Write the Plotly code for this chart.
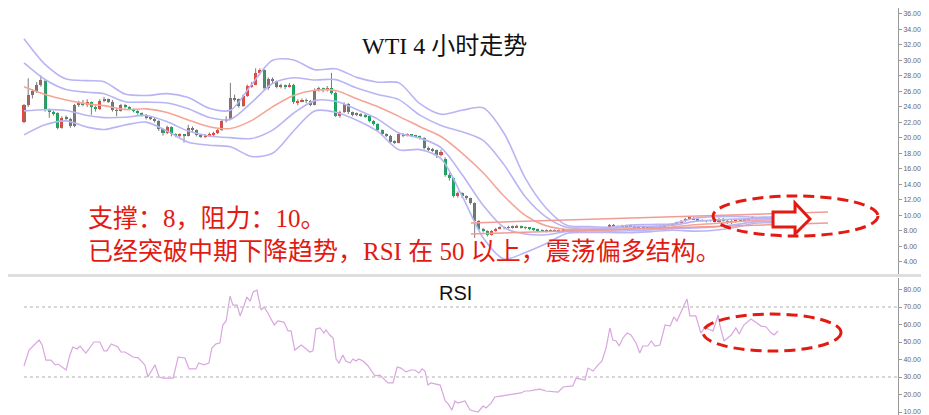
import plotly.graph_objects as go

# ---------------- data ----------------
opens = [22.1,24.2,25.5,26.0,26.9,27.3,23.7,23.4,23.2,21.3,22.6,22.5,21.5,24.2,24.5,24.3,24.6,24.0,23.7,24.8,
         25.0,24.7,23.6,23.5,24.2,24.0,23.7,23.5,23.2,23.0,22.6,22.5,22.2,21.1,20.6,21.4,20.5,20.3,20.4,20.3,
         21.3,21.0,20.4,20.2,20.3,20.5,20.6,21.0,22.2,22.4,25.2,25.0,24.1,25.4,26.7,26.9,28.4,28.8,26.4,27.6,
         27.3,26.6,26.8,26.6,26.9,24.6,24.7,24.9,24.8,24.3,26.2,26.4,26.2,26.4,25.8,22.9,23.3,24.4,23.3,23.0,
         23.1,22.9,22.8,22.2,21.8,21.0,20.5,20.3,19.5,19.4,20.5,20.3,20.4,20.3,20.2,20.0,18.7,18.5,18.4,17.8,
         17.3,15.2,14.8,12.5,12.9,12.5,12.2,11.6,9.3,8.3,8.0,7.5,8.0,8.3,8.4,8.4,8.5,8.5,8.6,8.5,
         8.4,8.3,8.2,8.1,8.0,8.0,8.1,8.0,8.1,8.1,8.0,8.1,8.1,8.0,8.1,8.2,8.1,8.2,8.2,8.3,
         8.8,8.6,8.5,8.6,8.7,8.6,8.5,8.6,8.5,8.4,8.4,8.3,8.6,8.8,8.7,8.9,9.1,9.3,9.6,9.7,
         9.5,9.4,9.3,9.3,9.3,9.2,9.6,9.3,9.0,9.3,9.4,9.3,9.5,9.6,9.7,9.6,9.7,9.6,9.7,9.5]
highs = [24.4,27.7,26.3,27.2,28.1,27.5,23.8,23.5,23.3,22.8,22.9,22.6,24.4,24.8,24.9,25.0,24.7,24.2,25.0,25.3,
         25.1,24.9,23.9,24.4,24.4,24.1,23.8,23.6,23.3,23.1,22.8,22.6,22.3,21.3,21.6,21.5,20.6,20.6,20.5,21.7,
         21.5,21.1,20.5,20.5,20.7,20.8,21.2,22.4,22.8,27.1,25.6,25.1,25.6,26.9,27.2,29.0,29.0,28.9,27.8,27.8,
         27.4,27.0,26.9,27.1,27.0,25.0,25.1,25.1,24.9,26.4,26.6,26.5,26.7,28.4,26.0,23.5,24.6,24.5,23.4,23.3,
         23.2,23.1,22.9,22.3,21.9,21.1,20.6,20.4,19.7,20.7,20.6,20.6,20.5,20.4,20.3,20.1,18.9,18.7,18.5,18.5,
         17.5,15.5,14.9,13.1,13.0,12.6,12.3,11.7,9.4,8.4,8.1,8.1,8.4,8.6,8.6,8.7,8.7,8.8,8.7,8.6,
         8.5,8.4,8.3,8.2,8.2,8.2,8.2,8.2,8.3,8.2,8.2,8.3,8.2,8.2,8.3,8.3,8.3,8.4,8.4,8.9,
         8.9,8.7,8.8,8.8,8.8,8.7,8.7,8.7,8.6,8.6,8.5,8.7,8.9,8.9,9.0,9.2,9.4,9.7,9.8,9.8,
         9.6,9.5,9.4,9.4,9.4,9.7,9.7,9.4,9.4,9.5,9.5,9.6,9.7,9.9,9.8,9.8,9.8,9.8,9.8,9.6]
lows = [21.9,24.0,25.1,25.8,26.6,23.4,22.6,22.9,21.1,21.2,22.2,21.3,21.4,24.0,24.1,24.0,23.0,23.4,23.6,24.6,
        24.5,23.4,22.8,23.4,23.8,23.6,23.3,23.0,22.8,22.4,22.3,22.0,20.9,20.3,20.5,20.2,20.1,20.1,19.4,20.2,
        20.8,20.2,20.0,20.0,20.1,20.2,20.5,20.9,22.0,22.3,24.7,23.9,24.0,25.3,26.5,26.8,28.2,26.2,26.2,27.0,
        26.4,26.4,26.3,26.5,24.4,24.2,24.6,24.5,24.1,24.2,26.0,25.9,26.0,25.6,22.7,22.6,23.2,23.1,22.8,22.8,
        22.7,22.6,22.0,21.6,20.8,20.3,20.1,19.3,19.2,19.3,20.1,20.2,20.1,20.0,19.8,18.5,18.3,18.2,17.4,17.6,
        15.0,14.5,12.3,12.3,12.3,12.0,11.4,7.1,8.1,7.8,7.3,7.4,7.9,8.2,8.2,8.3,8.3,8.4,8.3,8.2,
        8.1,8.0,7.9,7.9,7.8,7.9,7.9,7.9,7.9,7.9,7.9,8.0,7.9,7.9,8.0,8.0,8.0,8.1,8.1,8.2,
        8.5,8.4,8.4,8.5,8.5,8.4,8.4,8.4,8.3,8.3,8.2,8.2,8.5,8.6,8.6,8.8,9.0,9.2,9.5,9.4,
        9.3,9.2,9.1,9.2,9.1,9.1,9.2,8.9,8.9,9.2,9.2,9.2,9.4,9.5,9.5,9.5,9.5,9.5,9.4,9.4]
closes = [24.2,25.5,26.0,26.9,27.5,23.7,23.4,23.2,21.3,22.6,22.5,21.5,24.2,24.5,24.3,24.6,24.0,23.7,24.8,25.0,
          24.7,23.6,23.5,24.2,24.0,23.7,23.5,23.2,23.0,22.6,22.5,22.2,21.1,20.6,21.4,20.5,20.3,20.4,20.3,21.3,
          21.0,20.4,20.2,20.3,20.5,20.6,21.0,22.2,22.4,25.2,25.0,24.1,25.4,26.7,26.9,28.4,28.8,26.4,27.6,27.3,
          26.6,26.8,26.6,26.9,24.6,24.7,24.9,24.8,24.3,26.2,26.4,26.2,26.4,25.8,22.9,23.3,24.4,23.3,23.0,23.1,
          22.9,22.8,22.2,21.8,21.0,20.5,20.3,19.5,19.4,20.5,20.3,20.4,20.3,20.2,20.0,18.7,18.5,18.4,17.8,18.2,
          15.2,14.8,12.5,12.9,12.5,12.2,11.6,9.3,8.3,8.0,7.5,8.0,8.3,8.4,8.4,8.5,8.5,8.6,8.5,8.4,
          8.3,8.2,8.1,8.0,8.0,8.1,8.0,8.1,8.1,8.0,8.1,8.1,8.0,8.1,8.2,8.1,8.2,8.2,8.3,8.8,
          8.6,8.5,8.6,8.7,8.6,8.5,8.6,8.5,8.4,8.4,8.3,8.6,8.8,8.7,8.9,9.1,9.3,9.6,9.7,9.5,
          9.4,9.3,9.3,9.3,9.2,9.6,9.3,9.0,9.3,9.4,9.3,9.5,9.6,9.7,9.6,9.7,9.6,9.7,9.5,9.5]

bb_bars = [0,5,10,15,19,24,29,34,39,44,49,54,59,64,69,74,79,84,89,94,99,104,109,114,119,124,129,134,139,144,149,154,159,164,169,174,179]
bb_upper2 = [32.8,29.5,27.6,27.4,27.25,25.67,25.48,25.72,25.21,23.83,23.58,26.86,30.02,30.06,28.81,28.93,27.82,27.2,27.11,24.42,23.05,23.57,23.89,20.58,14.82,10.94,8.7,8.58,8.49,8.77,8.84,8.94,9.62,9.85,9.88,9.78,9.82]
bb_upper1 = [29.7,27.55,26.25,25.9,25.71,24.67,24.62,24.51,23.77,22.64,22.40,24.55,27.02,27.77,27.48,27.53,26.44,25.61,24.95,22.94,21.62,20.81,19.70,16.53,12.42,9.80,8.45,8.39,8.32,8.52,8.61,8.73,9.21,9.41,9.53,9.59,9.63]
bb_mid = [26.6,25.6,24.9,24.4,24.17,23.67,23.76,23.30,22.33,21.45,21.22,22.24,24.02,25.48,26.15,26.13,25.06,24.02,22.79,21.46,20.19,18.05,15.51,12.48,10.02,8.66,8.2,8.2,8.15,8.27,8.38,8.52,8.8,8.97,9.18,9.4,9.44]
bb_lower1 = [23.5,23.65,23.55,22.9,22.63,22.67,22.90,22.09,20.89,20.26,20.04,19.93,21.02,23.19,24.82,24.73,23.68,22.43,20.63,19.98,18.76,15.29,11.32,8.43,7.62,7.52,7.95,8.01,7.98,8.02,8.15,8.31,8.39,8.53,8.83,9.21,9.25]
bb_lower2 = [20.4,21.7,22.2,21.4,21.09,21.67,22.04,20.88,19.45,19.07,18.86,17.62,18.02,20.90,23.49,23.33,22.30,20.84,18.47,18.50,17.33,12.53,7.13,4.38,5.22,6.38,7.7,7.82,7.81,7.77,7.92,8.10,7.98,8.09,8.48,9.02,9.06]

rsi_bars = [0,1.2,3.6,4.3,5.2,6.4,7.4,8.1,10.0,10.9,11.6,12.6,13.3,14.7,16.6,18.0,19.0,19.7,20.7,22.3,
            23.0,24.0,25.9,27.1,28.7,29.4,31.1,32.1,33.0,35.4,36.6,38.2,39.2,40.8,41.5,42.7,43.9,44.6,45.6,46.5,
            47.2,48.0,48.9,49.6,50.6,51.3,52.2,52.9,53.7,54.4,55.3,56.3,57.0,57.9,59.4,60.3,61.7,62.7,63.4,64.3,
            65.8,67.0,67.9,68.6,69.3,70.3,71.2,71.7,72.6,73.4,74.1,74.8,75.7,76.4,77.4,78.1,78.8,79.5,80.5,81.7,
            83.3,84.5,85.2,86.4,87.6,88.6,89.5,90.7,91.9,92.8,93.8,94.5,95.2,95.9,96.6,98.8,100.0,100.7,101.6,102.3,
            103.0,104.7,105.9,107.8,109.0,109.7,110.9,111.8,113.2,114.9,116.8,118.0,118.9,120.1,121.3,122.5,123.9,125.6,126.8,128.0,
            129.6,130.3,131.1,133.2,133.9,135.1,136.3,137.2,138.2,139.1,139.8,140.6,141.3,142.2,143.2,144.1,145.3,146.2,146.9,148.1,
            148.9,149.8,151.0,152.2,153.4,154.3,155.0,156.0,157.4,158.1,159.5,160.7,161.7,162.4,163.6,164.8,165.2,166.2,167.9,169.0,
            169.8,170.9,172.6,174.0,175.0,176.2,177.4,178.1,179.0]
rsi_values = [36.3,45.4,51.1,48.3,39.7,39.7,36.9,37.4,34.0,42.6,47.1,46.0,47.7,43.7,50.0,50.0,44.9,44.9,48.9,47.1,
              44.3,44.3,41.4,40.9,36.9,30.0,36.9,30.0,29.4,29.4,41.4,40.9,34.6,34.6,38.0,36.9,38.0,46.6,48.9,49.4,
              59.7,62.0,76.3,71.1,71.1,64.9,70.6,75.7,73.4,78.6,79.7,68.3,70.0,66.6,59.7,62.0,61.4,56.3,56.3,45.4,
              48.3,46.0,44.3,44.9,57.4,58.0,55.1,56.9,54.0,52.3,40.3,38.0,42.6,39.1,38.0,40.3,39.1,40.3,39.1,36.3,
              30.6,31.1,29.4,26.6,26.6,35.7,35.1,32.9,34.0,34.0,32.3,34.6,33.4,25.4,26.6,25.4,16.3,14.6,11.1,16.3,
              15.1,16.3,11.1,10.0,13.4,12.3,15.1,18.6,19.1,19.7,20.3,20.9,22.0,22.0,22.6,23.1,22.0,21.4,21.4,24.3,
              24.9,24.9,29.4,28.3,35.1,33.4,36.9,39.1,46.6,58.0,51.1,50.6,47.7,52.3,55.1,54.0,49.4,43.7,47.7,47.7,
              50.6,47.7,48.3,59.7,59.1,64.3,62.0,67.7,74.6,64.9,64.9,55.1,58.6,57.4,56.3,65.4,59.7,50.6,54.0,58.0,
              54.6,59.7,63.1,60.9,59.1,58.6,55.1,54.0,56.3]

channel_bars = [106.1, 190.9]
channel_upper = [9.03, 10.45]
channel_lower = [7.61, 9.03]

x_tick_bars = [7.6, 18.3, 32.1, 42.5, 56.3, 66.9, 81.4, 96.2, 110.6, 124.4, 144.8, 159.3, 173.1, 183.5, 198.3]
price_ticks = list(range(4, 38, 2))
rsi_ticks = list(range(10, 90, 10))
rsi_levels = [70, 30]

title_text = "WTI 4 小时走势"
note_line1 = "支撑：8，阻力：10。"
note_line2 = "已经突破中期下降趋势，RSI 在 50 以上，震荡偏多结构。"

# ---------------- styling ----------------
UP = "#e5463c"
DOWN = "#14a45e"
WICK = "#7a7a7a"
BAND = "#b9b5f4"
MID = "#f5a596"
RSI_C = "#d9a5df"
RED = "#e31a12"
CJK = "Liberation Serif, Noto Sans CJK SC, sans-serif"

W, H = 929, 415
ML, MR, MT, MB = 10, 39, 0, 3
PW, PH = W - ML - MR, H - MT - MB
XR = [-(16 - ML) / 4.212, (890 - 16) / 4.212]


def px2paper(px, py):
    return (px - ML) / PW, (PH + MT - py) / PH


fig = go.Figure()

# wicks
wx, wy = [], []
for i, (h, l) in enumerate(zip(highs, lows)):
    wx += [i, i, None]
    wy += [l, h, None]
fig.add_trace(go.Scatter(x=wx, y=wy, mode="lines", line=dict(color=WICK, width=1),
                         hoverinfo="skip", xaxis="x", yaxis="y"))

# bodies
for up in (True, False):
    bx, bb, bh = [], [], []
    for i, (o, c) in enumerate(zip(opens, closes)):
        if (c >= o) == up:
            bx.append(i)
            bb.append(min(o, c))
            bh.append(max(abs(c - o), 0.1))
    fig.add_trace(go.Bar(x=bx, y=bh, base=bb, width=0.72,
                         marker=dict(color=UP if up else DOWN, line=dict(width=0)),
                         xaxis="x", yaxis="y"))

# bands
for ys, col in ((bb_upper2, BAND), (bb_upper1, BAND), (bb_lower1, BAND), (bb_lower2, BAND), (bb_mid, MID)):
    fig.add_trace(go.Scatter(x=bb_bars, y=ys, mode="lines",
                             line=dict(color=col, width=1.6, shape="spline", smoothing=0.8),
                             xaxis="x", yaxis="y"))

# channel
for ys in (channel_upper, channel_lower):
    fig.add_trace(go.Scatter(x=channel_bars, y=ys, mode="lines",
                             line=dict(color="#f39a94", width=1.5), xaxis="x", yaxis="y"))

# RSI
fig.add_trace(go.Scatter(x=rsi_bars, y=rsi_values, mode="lines",
                         line=dict(color=RSI_C, width=1.2), xaxis="x2", yaxis="y2"))

shapes = []
for lv in rsi_levels:
    shapes.append(dict(type="line", xref="paper", yref="y2", x0=px2paper(16, 0)[0], x1=1,
                       y0=lv, y1=lv, line=dict(color="#cacaca", width=1.5, dash="dot")))
# separator between panels
sx0, sy = px2paper(0, 267.5)
sx1, _ = px2paper(915, 267.5)
shapes.append(dict(type="line", xref="paper", yref="paper", x0=sx0, x1=sx1, y0=sy, y1=sy,
                   line=dict(color="#dedede", width=3)))
# ellipses
for (x0, y0, x1, y1) in ((705, 188, 870, 228), (695, 306, 833, 343)):
    a0, b1 = px2paper(x0, y0)
    a1, b0 = px2paper(x1, y1)
    shapes.append(dict(type="circle", xref="paper", yref="paper", x0=a0, x1=a1, y0=b0, y1=b1,
                       line=dict(color=RED, width=3, dash="11px,6px")))
# hollow arrow
pts = [(765, 204), (787, 204), (787, 195), (802, 211), (787, 226), (787, 219), (765, 219)]
path = "M " + " L ".join("%.4f,%.4f" % px2paper(*p) for p in pts) + " Z"
shapes.append(dict(type="path", xref="paper", yref="paper", path=path,
                   line=dict(color=RED, width=3), fillcolor="white"))

annotations = []
tx, ty = px2paper(436, 38)
annotations.append(dict(text=title_text, x=tx, y=ty, xref="paper", yref="paper", showarrow=False,
                        xanchor="center", yanchor="middle", font=dict(family=CJK, size=24, color="#111")))
for txt, cy in ((note_line1, 210), (note_line2, 243)):
    ax_, ay_ = px2paper(78, cy)
    annotations.append(dict(text=txt, x=ax_, y=ay_, xref="paper", yref="paper", showarrow=False,
                            xanchor="left", yanchor="middle", font=dict(family=CJK, size=25, color=RED)))
rx, ry = px2paper(447, 285)
annotations.append(dict(text="RSI", x=rx, y=ry, xref="paper", yref="paper", showarrow=False,
                        xanchor="center", yanchor="middle",
                        font=dict(family="Liberation Sans, Arial", size=20, color="#111")))

top_dom0 = px2paper(0, 267)[1]
bot_dom1 = px2paper(0, 270)[1]
tickfont = dict(family="Liberation Sans, Arial", size=7, color="#666")

fig.update_layout(
    template="none", width=W, height=H,
    margin=dict(l=ML, r=MR, t=MT, b=MB),
    plot_bgcolor="white", paper_bgcolor="white",
    showlegend=False, barmode="overlay", bargap=0,
    shapes=shapes, annotations=annotations,
    xaxis=dict(domain=[0, 1], anchor="y", range=XR, showticklabels=False, showgrid=False,
               zeroline=False, showline=False, ticks=""),
    xaxis2=dict(domain=[0, 1], anchor="y2", matches="x", range=XR, tickvals=x_tick_bars,
                ticktext=[""] * len(x_tick_bars), ticks="outside", ticklen=4, tickcolor="#aaa",
                showline=True, linecolor="#bdbdbd", linewidth=2, showgrid=False, zeroline=False),
    yaxis=dict(domain=[top_dom0, 1], anchor="x", side="right", range=[2.32, 36.77],
               tickvals=price_ticks, ticktext=["%.2f" % v for v in price_ticks], tickfont=tickfont,
               ticks="outside", ticklen=3, tickcolor="#999", showline=True, linecolor="#999",
               linewidth=1, showgrid=False, zeroline=False, automargin=False),
    yaxis2=dict(domain=[0, bot_dom1], anchor="x2", side="right", range=[5.43, 86.57],
                tickvals=rsi_ticks, ticktext=["%.4f" % v for v in rsi_ticks], tickfont=tickfont,
                ticks="outside", ticklen=3, tickcolor="#999", showline=True, linecolor="#999",
                linewidth=1, showgrid=False, zeroline=False, automargin=False),
)

fig.write_html("out.html")
